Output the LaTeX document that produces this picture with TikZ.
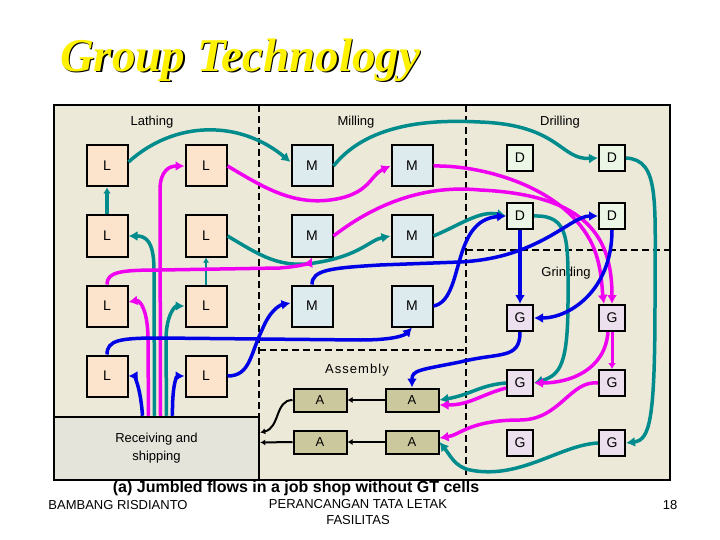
\documentclass[tikz,border=0pt]{standalone}
\usepackage{fontspec}
\setmainfont{Liberation Sans}
\newfontfamily\titlefont{Liberation Serif}
\usetikzlibrary{arrows.meta,calc}
\definecolor{bg}{RGB}{236,233,216}
\definecolor{lf}{RGB}{252,228,204}
\definecolor{mf}{RGB}{222,235,238}
\definecolor{df}{RGB}{236,246,230}
\definecolor{gf}{RGB}{236,224,238}
\definecolor{af}{RGB}{204,200,158}
\definecolor{rf}{RGB}{228,228,218}
\definecolor{tl}{RGB}{0,140,140}
\definecolor{mg}{RGB}{240,0,240}
\definecolor{bl}{RGB}{0,0,230}
\tikzset{
 mach/.style={draw=black,line width=2pt,minimum size=41pt,inner sep=0pt,font=\fontsize{14}{14}\selectfont},
 smach/.style={draw=black,line width=2pt,minimum size=26pt,inner sep=0pt,font=\fontsize{14}{14}\selectfont},
 abox/.style={draw=black,line width=2pt,fill=af,minimum width=53pt,minimum height=23pt,inner sep=0pt,font=\fontsize{13}{13}\selectfont},
 lab/.style={font=\fontsize{13}{15}\selectfont},
 fl/.style={line width=3.5pt,-{Latex[length=9pt,width=10pt]}},
 tf/.style={fl,tl}, mgf/.style={fl,mg}, bf/.style={fl,bl},
 blk/.style={line width=2pt,-{Latex[length=5pt,width=6pt]}},
 dsh/.style={line width=2pt,dash pattern=on 7pt off 4pt},
}
\begin{document}
\begin{tikzpicture}[x=1pt,y=-1pt]
\useasboundingbox (0,0) rectangle (720,540);
\fill[white] (0,0) rectangle (720,540);
% title
\node[font=\titlefont\bfseries\itshape\fontsize{47}{47}\selectfont,text=black] (sh) at (241.5,61.5) {Group Technology};
\node[font=\titlefont\bfseries\itshape\fontsize{47}{47}\selectfont,text=yellow] (title) at (240,60) {Group Technology};
% frame
\node[draw=black,line width=2.5pt,fill=bg,minimum width=616pt,minimum height=375pt,inner sep=0pt] (frame) at (362,292.5) {};
\node[draw=black,line width=2.5pt,fill=rf,minimum width=205pt,minimum height=63pt,inner sep=0pt,align=center,font=\fontsize{13}{18}\selectfont] (rec) at (156.5,448.5) {Receiving and\\shipping};
\coordinate (v1t) at (259,105); \coordinate (v1b) at (259,417);
\coordinate (v2t) at (466,105); \coordinate (v2b) at (466,480);
\coordinate (h1a) at (259,350); \coordinate (h1b) at (466,350);
\coordinate (h2a) at (466,250); \coordinate (h2b) at (670,250);
\draw[dsh] (v1t) -- (v1b); \draw[dsh] (v2t) -- (v2b);
\draw[dsh] (h1a) -- (h1b); \draw[dsh] (h2a) -- (h2b);
% labels
\node[lab] (tlat) at (152,122) {Lathing};
\node[lab] (tmil) at (356,122) {Milling};
\node[lab] (tdri) at (560,122) {Drilling};
\node[lab] (tgri) at (566,273) {Grinding};
\node[lab,font=\fontsize{13}{15}\selectfont\addfontfeatures{LetterSpace=8}] (tass) at (357,370) {Assembly};
% machines
\foreach \n/\x/\y in {L1/107/166,L2/206/166,L3/107/236,L4/206/236,L5/107/306,L6/206/306,L7/107/376,L8/206/376}
  \node[mach,fill=lf] (\n) at (\x,\y) {L};
\foreach \n/\x/\y in {M1/312/166,M2/412/166,M3/312/236,M4/412/236,M5/312/306,M6/412/306}
  \node[mach,fill=mf] (\n) at (\x,\y) {M};
\foreach \n/\x/\y in {D1/520/158,D2/612/158,D3/520/216,D4/612/216}
  \node[smach,fill=df] (\n) at (\x,\y) {D};
\foreach \n/\x/\y in {G1/520/318,G2/612/318,G3/520/383,G4/612/383,G5/520/443,G6/612/443}
  \node[smach,fill=gf] (\n) at (\x,\y) {G};
\node[abox] (A1) at (320,400) {A};
\node[abox] (A2) at (412,400) {A};
\node[abox] (A3) at (320,442) {A};
\node[abox] (A4) at (412,442) {A};
% black
\draw[blk] (A2.west) -- (A1.east);
\draw[blk] (A4.west) -- (A3.east);
\draw[blk] (A1.west) .. controls (275,400) and (280,428) .. ($(rec.east)+(0,-16)$);
\draw[blk] (A3.west) -- ($(rec.east)+(0,-6)$);
% teal
\draw[tf] ($(L1.east)+(0,-4)$) .. controls (175,120) and (240,120) .. ($(M1.west)+(0,-4)$);
\draw[tl,line width=3.5pt,-{Latex[length=6pt,width=8pt]}] (L3.north) -- (L1.south);
\draw[tf] ($(rec.north)+(-2,0)$) -- (154,270) .. controls (154,240) and (145,236) .. (L3.east);
\draw[tf] ($(rec.north)+(10,0)$) -- (166,340) .. controls (166,315) and (175,306) .. (L6.west);
\draw[tl,line width=2pt,-{Latex[length=5pt,width=6pt]}] (L6.north) -- (L4.south);
\draw[tf] (L4.east) .. controls (260,255) and (280,270) .. (320,262) .. controls (360,255) and (370,240) .. (M4.west);
\draw[tf] (M1.east) .. controls (370,120) and (440,120) .. (480,122) .. controls (560,125) and (560,160) .. (D2.west);
\draw[tf] (M4.east) .. controls (460,225) and (480,210) .. (D3.west);
\draw[tf] (D3.east) .. controls (570,215) and (568,240) .. (568,300) .. controls (568,365) and (560,375) .. (G3.east);
\draw[tf] (D2.east) .. controls (660,160) and (655,200) .. (655,300) .. controls (655,420) and (650,440) .. (G6.east);
\draw[tf] (G3.west) .. controls (480,385) and (470,395) .. (A2.east);
\draw[tf] (G6.west) .. controls (560,445) and (520,480) .. (470,470) .. controls (455,467) and (450,455) .. (A4.east);
% magenta
\draw[mgf] ($(rec.north)+(-8,0)$) -- (148,340) .. controls (148,310) and (140,300) .. ($(L5.east)+(0,-4)$);
\draw[mgf] ($(rec.north)+(4,0)$) -- (160,190) .. controls (160,170) and (170,166) .. (L2.west);
\draw[mgf] (L2.east) .. controls (260,185) and (290,205) .. (330,200) .. controls (370,195) and (370,175) .. (M2.west);
\draw[mgf] (L5.north) .. controls (107,272) and (120,270) .. (160,270) -- (280,268) .. controls (305,266) and (310,262) .. (M3.south);
\draw[mgf] (M3.east) .. controls (380,200) and (430,185) .. (480,190) .. controls (590,195) and (612,240) .. (G2.north);
\draw[mgf] (M2.east) .. controls (480,165) and (560,185) .. (590,240) .. controls (602,262) and (602,290) .. ($(G2.north)+(-8,0)$);
\draw[mg,line width=3pt,-{Latex[length=6pt,width=8pt]}] (G2.south) -- (G4.north);
\draw[mgf] ($(G2.south)+(-4,0)$) .. controls (605,370) and (570,383) .. (G3.east);
\draw[mgf] ($(G3.west)+(0,5)$) .. controls (480,395) and (470,405) .. ($(A2.east)+(0,5)$);
\draw[mgf] (G4.west) .. controls (570,380) and (560,420) .. (520,420) .. controls (470,420) and (460,435) .. ($(A4.east)+(0,-4)$);
% blue
\draw[bf] ($(rec.north)+(-14,0)$) .. controls (140,380) and (132,376) .. (L7.east);
\draw[bf] ($(rec.north)+(16,0)$) .. controls (172,380) and (178,376) .. (L8.west);
\draw[bf] (L8.east) .. controls (250,376) and (250,355) .. (262,330) .. controls (270,310) and (280,305) .. ($(M5.west)+(0,-3)$);
\draw[bf] (L7.north) .. controls (107,340) and (120,338) .. (160,338) -- (360,340) .. controls (395,340) and (405,335) .. (M6.south);
\draw[bf] (M5.north) .. controls (312,270) and (330,268) .. (380,265) -- (460,262) .. controls (540,258) and (570,216) .. (D4.west);
\draw[bf] (M6.east) .. controls (465,300) and (450,220) .. (D3.west);
\draw[bf] (D3.south) -- (G1.north);
\draw[bf] (D4.south) .. controls (612,290) and (570,318) .. (G1.east);
\draw[bf] (G1.south) .. controls (520,360) and (500,352) .. (460,362) .. controls (420,370) and (412,370) .. (A2.north);
% caption and footer
\node[font=\bfseries\fontsize{16}{18}\selectfont] (cap) at (296,488) {(a) Jumbled flows in a job shop without GT cells};
\node[font=\fontsize{13}{15}\selectfont] (f1) at (118,505) {BAMBANG RISDIANTO};
\node[font=\fontsize{13}{16}\selectfont,align=center] (f2) at (358,512) {PERANCANGAN TATA LETAK\\FASILITAS};
\node[font=\fontsize{13}{15}\selectfont] (f3) at (670,505) {18};
\end{tikzpicture}
\end{document}
